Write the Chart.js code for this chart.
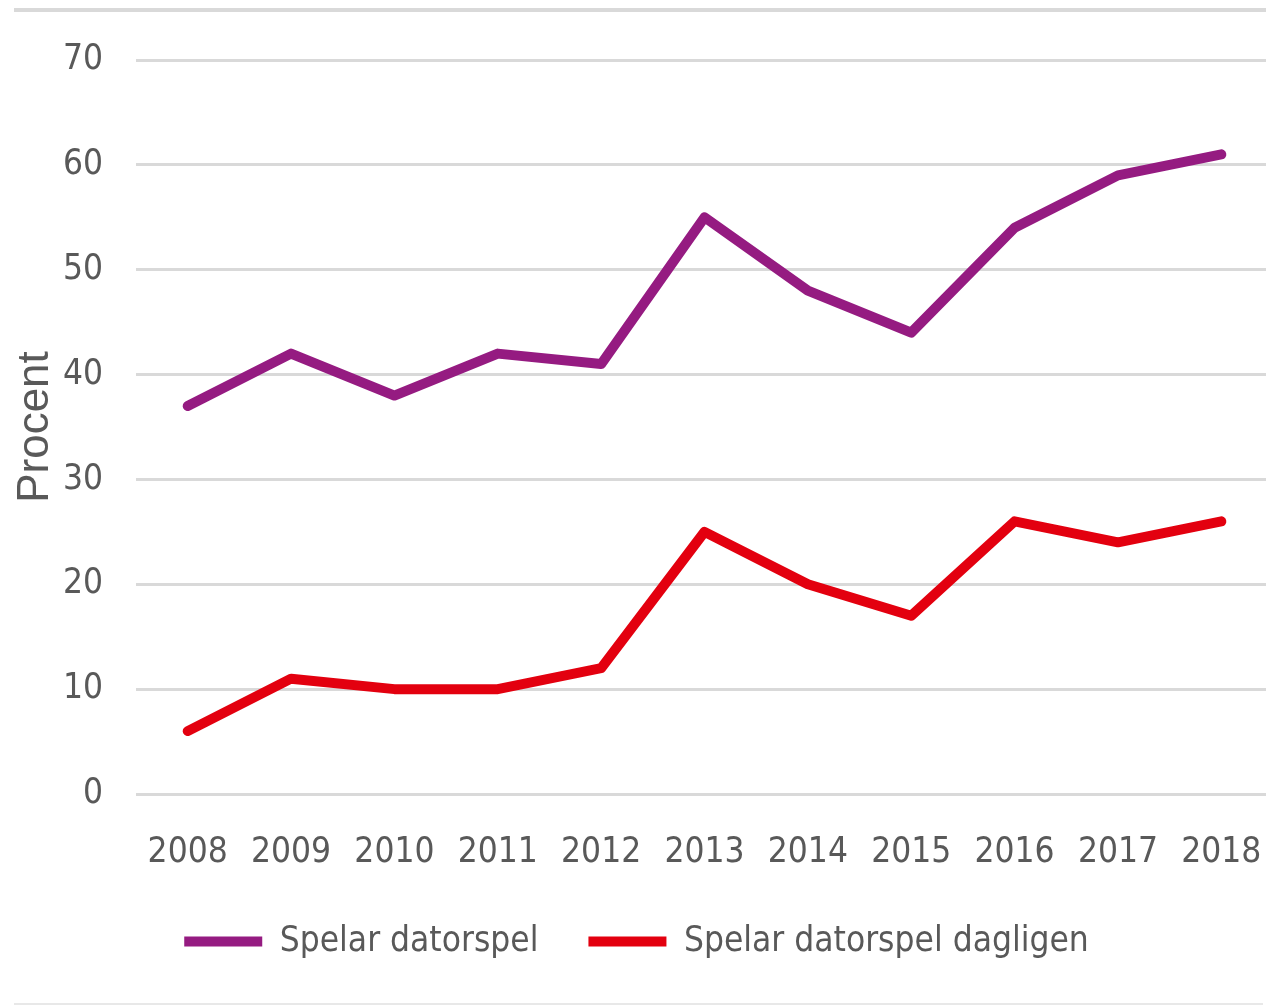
<!DOCTYPE html>
<html>
<head>
<meta charset="utf-8">
<script src="https://cdn.jsdelivr.net/npm/chart.js@4/dist/chart.umd.min.js"></script>
<style>
  html, body { margin: 0; padding: 0; background: #fff; overflow: hidden; }
  #wrap { position: relative; width: 1266px; height: 1006px; overflow: hidden; }
  #chart { position: absolute; left: 0; top: 0; }
  .rule { position: absolute; left: 14px; }
  .rule.top { top: 8px; width: 1252px; height: 4px; background: #d9d9d9; }
  .rule.bottom { top: 1003px; width: 1249px; height: 2px; background: #e8e8e8; }
</style>
</head>
<body>
<div id="wrap">
  <canvas id="chart" width="1273" height="1006"></canvas>
  <div class="rule top"></div>
  <div class="rule bottom"></div>
</div>
<script>
// chart data
const years = ['2008', '2009', '2010', '2011', '2012', '2013', '2014', '2015', '2016', '2017', '2018'];
const spelar = [37, 42, 38, 42, 41, 55, 48, 44, 54, 59, 61];
const spelarDagligen = [6, 11, 10, 10, 12, 25, 20, 17, 26, 24, 26];
const yTicks = [0, 10, 20, 30, 40, 50, 60, 70];

const textColor = '#595959';
const narrow = '"DejaVu Sans Condensed", "DejaVu Sans", sans-serif';

const ctx = document.getElementById('chart').getContext('2d');

new Chart(ctx, {
  type: 'line',
  data: {
    labels: years,
    datasets: [
      {
        label: 'Spelar datorspel',
        data: spelar,
        borderColor: '#951B81',
        backgroundColor: '#951B81',
        borderWidth: 10,
        borderCapStyle: 'round',
        borderJoinStyle: 'round',
        pointRadius: 0,
        tension: 0,
      },
      {
        label: 'Spelar datorspel dagligen',
        data: spelarDagligen,
        borderColor: '#E3000F',
        backgroundColor: '#E3000F',
        borderWidth: 10,
        borderCapStyle: 'round',
        borderJoinStyle: 'round',
        pointRadius: 0,
        tension: 0,
      },
    ],
  },
  options: {
    responsive: false,
    animation: false,
    layout: { padding: { top: 60, left: 0, right: 0, bottom: 37 } },
    plugins: {
      tooltip: { enabled: false },
      legend: {
        position: 'bottom',
        labels: {
          usePointStyle: true,
          pointStyle: 'line',
          pointStyleWidth: 78,
          padding: 50,
          color: textColor,
          font: { family: narrow, size: 35 },
        },
      },
    },
    scales: {
      x: {
        offset: true,
        grid: { display: false },
        border: { display: false },
        ticks: {
          color: textColor,
          padding: 30,
          maxRotation: 0,
          font: { family: narrow, size: 35 },
        },
        afterFit: (scale) => {
          scale.height = 80;
          scale.paddingLeft = 0;
          scale.paddingRight = 0;
        },
      },
      y: {
        min: 0,
        max: 70,
        afterBuildTicks: (scale) => { scale.ticks = yTicks.map(v => ({ value: v })); },
        grid: { color: '#d9d9d9', lineWidth: 3, drawTicks: false },
        border: { display: false },
        ticks: {
          color: textColor,
          padding: 33,
          font: { family: narrow, size: 35 },
        },
        title: {
          display: true,
          text: 'Procent',
          color: textColor,
          padding: { top: 9, bottom: 0 },
          font: { family: '"Liberation Sans", sans-serif', size: 44 },
        },
        afterFit: (scale) => { scale.width = 136; },
      },
    },
  },
});
</script>
</body>
</html>
